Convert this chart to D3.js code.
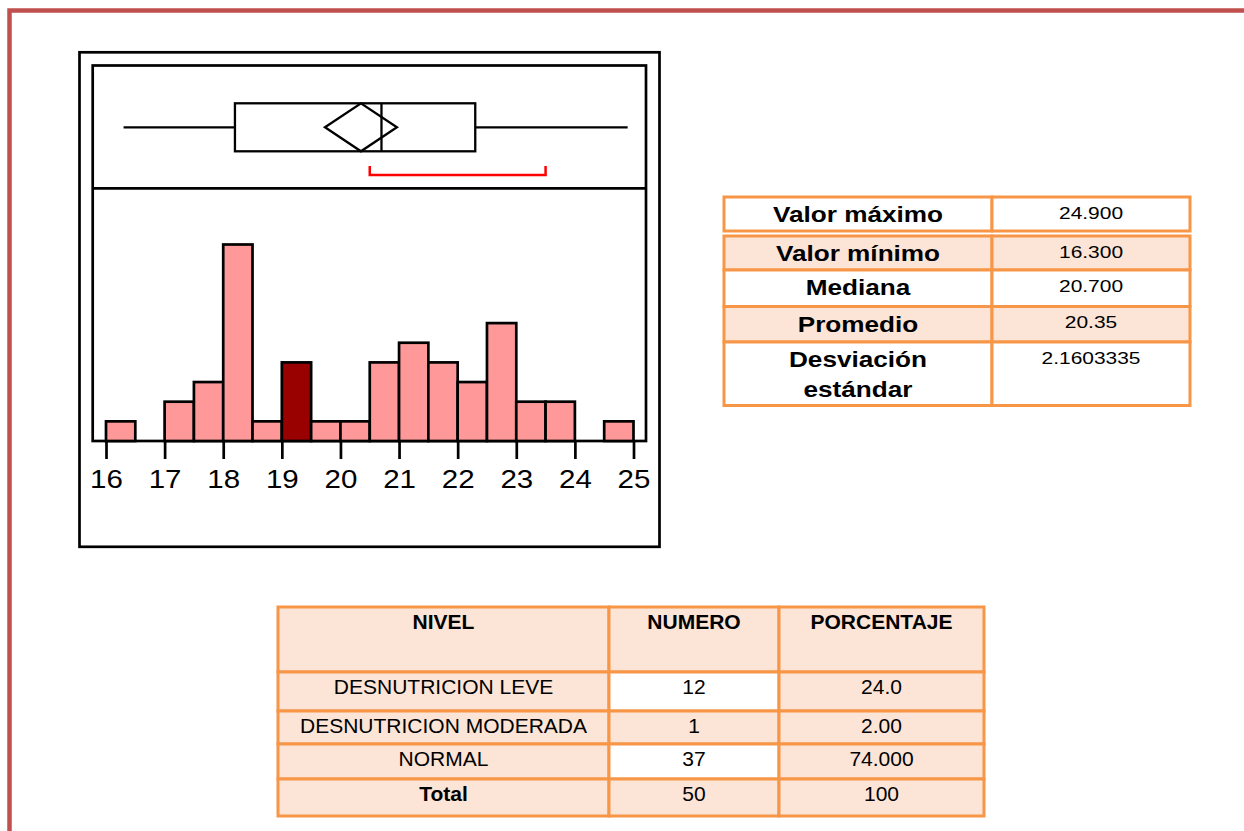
<!DOCTYPE html>
<html>
<head>
<meta charset="utf-8">
<script src="https://cdn.jsdelivr.net/npm/d3@7"></script>
<style>
  body { margin: 0; background: #fff; }
  svg { display: block; font-family: "Liberation Sans", Arial, sans-serif; }
</style>
</head>
<body>
<svg id="chart" width="1244" height="831"></svg>
<script>
// histogram bins (0.5 wide) and counts
var binStarts = [16, 16.5, 17, 17.5, 18, 18.5, 19, 19.5, 20, 20.5, 21, 21.5, 22, 22.5, 23, 23.5, 24, 24.5];
var binCounts = [1, 0, 2, 3, 10, 1, 4, 1, 1, 4, 5, 4, 3, 6, 2, 2, 0, 1];
var highlightBin = 19;

// outlier box plot summary
var boxMin = 16.3, boxQ1 = 18.2, boxMedian = 20.7, boxQ3 = 22.3, boxMax = 24.9;
var meanValue = 20.35, meanLow = 19.736, meanHigh = 20.964;
var shortestHalf = [20.5, 23.5];

var xTicks = [16, 17, 18, 19, 20, 21, 22, 23, 24, 25];

// summary table
var statLabels = [["Valor máximo"], ["Valor mínimo"], ["Mediana"], ["Promedio"], ["Desviación", "estándar"]];
var statValues = ["24.900", "16.300", "20.700", "20.35", "2.1603335"];

// frequency table
var tableHeader = ["NIVEL", "NUMERO", "PORCENTAJE"];
var nivelLabels = ["DESNUTRICION LEVE", "DESNUTRICION MODERADA", "NORMAL", "Total"];
var numeros = ["12", "1", "37", "50"];
var porcentajes = ["24.0", "2.00", "74.000", "100"];

var svg = d3.select("#chart");
var orange = "#f79646", peach = "#fce4d6";

// page border
svg.append("path")
  .attr("d", "M9.5,831V10.5H1244")
  .attr("fill", "none")
  .attr("stroke", "#c0504d")
  .attr("stroke-width", 4.5);

// ---- distribution chart ----
var x = d3.scaleLinear().domain([16, 25]).range([106, 633.5]);
var y = d3.scaleLinear().domain([0, 10]).range([441, 244.5]);
var boxY = d3.scaleLinear().domain([0, 1]).range([103.3, 151.3]);

svg.append("rect")
  .attr("x", 79.5).attr("y", 52.3).attr("width", 580).attr("height", 494.5)
  .attr("fill", "none").attr("stroke", "#000").attr("stroke-width", 2.7);

svg.append("rect")
  .attr("x", 92.7).attr("y", 65.5).attr("width", 553.3).attr("height", 375.5)
  .attr("fill", "none").attr("stroke", "#000").attr("stroke-width", 2.7);

svg.append("line")
  .attr("x1", 92.7).attr("x2", 646).attr("y1", 188.3).attr("y2", 188.3)
  .attr("stroke", "#000").attr("stroke-width", 2.7);

var box = svg.append("g").attr("fill", "none").attr("stroke", "#000").attr("stroke-width", 2.3);
var midY = boxY(0.5);

box.append("line").attr("x1", x(boxMin)).attr("x2", x(boxQ1)).attr("y1", midY).attr("y2", midY);
box.append("line").attr("x1", x(boxQ3)).attr("x2", x(boxMax)).attr("y1", midY).attr("y2", midY);
box.append("rect")
  .attr("x", x(boxQ1)).attr("y", boxY(0))
  .attr("width", x(boxQ3) - x(boxQ1)).attr("height", boxY(1) - boxY(0));
box.append("line").attr("x1", x(boxMedian)).attr("x2", x(boxMedian)).attr("y1", boxY(0)).attr("y2", boxY(1));
box.append("path")
  .attr("d", "M" + x(meanLow) + "," + midY +
             "L" + x(meanValue) + "," + boxY(0) +
             "L" + x(meanHigh) + "," + midY +
             "L" + x(meanValue) + "," + boxY(1) + "Z");

svg.append("path")
  .attr("d", "M" + x(shortestHalf[0]) + ",166V175H" + x(shortestHalf[1]) + "V166")
  .attr("fill", "none").attr("stroke", "#ff0000").attr("stroke-width", 2.5);

var bins = binStarts.map(function(s, i) { return {start: s, count: binCounts[i]}; })
  .filter(function(d) { return d.count > 0; });

svg.selectAll(".bar")
    .data(bins)
  .enter().append("rect")
    .attr("class", "bar")
    .attr("x", function(d) { return x(d.start); })
    .attr("y", function(d) { return y(d.count); })
    .attr("width", function(d) { return x(d.start + 0.5) - x(d.start); })
    .attr("height", function(d) { return y(0) - y(d.count); })
    .attr("fill", function(d) { return d.start === highlightBin ? "#990000" : "#ff9999"; })
    .attr("stroke", "#000")
    .attr("stroke-width", 2.7);

var axis = svg.append("g")
  .attr("transform", "translate(0," + y(0) + ")")
  .call(d3.axisBottom(x).tickValues(xTicks).tickSize(18).tickPadding(11));
axis.select(".domain").remove();
axis.selectAll(".tick line").attr("stroke", "#000").attr("stroke-width", 2.7);
axis.selectAll(".tick text")
  .attr("fill", "#000")
  .attr("font-family", "'Liberation Sans', Arial, sans-serif")
  .attr("font-size", 25)
  .attr("transform", "scale(1.18,1)");

// ---- summary table ----
var statTops = [197, 236, 270, 306.5, 342];
var statBottoms = [231, 270, 306.5, 342, 405.5];
var statCols = [724, 992, 1190];

var stats = svg.selectAll(".stat")
    .data(statLabels)
  .enter().append("g")
    .attr("class", "stat");

[0, 1].forEach(function(c) {
  stats.append("rect")
    .attr("x", statCols[c])
    .attr("y", function(d, i) { return statTops[i]; })
    .attr("width", statCols[c + 1] - statCols[c])
    .attr("height", function(d, i) { return statBottoms[i] - statTops[i]; })
    .attr("fill", function(d, i) { return i % 2 ? peach : "#fff"; })
    .attr("stroke", orange)
    .attr("stroke-width", 3);
});

stats.each(function(lines, i) {
  var g = d3.select(this);
  lines.forEach(function(t, k) {
    g.append("text")
      .attr("transform", "translate(" + (statCols[0] + statCols[1]) / 2 + "," + (statTops[i] + 25 + k * 30) + ") scale(1.2,1)")
      .attr("text-anchor", "middle")
      .attr("font-weight", "bold")
      .attr("font-size", 21.8)
      .text(t);
  });
  g.append("text")
    .attr("transform", "translate(" + (statCols[1] + statCols[2]) / 2 + "," + (statTops[i] + 21.5) + ") scale(1.27,1)")
    .attr("text-anchor", "middle")
    .attr("font-size", 16.5)
    .text(statValues[i]);
});

// ---- frequency table ----
var tCols = [278, 609, 779, 984];
var tRows = [607, 672, 711, 744, 779, 816];

var rows = [tableHeader].concat(nivelLabels.map(function(n, i) {
  return [n, numeros[i], porcentajes[i]];
}));

rows.forEach(function(cells, r) {
  cells.forEach(function(t, c) {
    var white = c === 1 && (r === 1 || r === 3);
    svg.append("rect")
      .attr("x", tCols[c]).attr("y", tRows[r])
      .attr("width", tCols[c + 1] - tCols[c]).attr("height", tRows[r + 1] - tRows[r])
      .attr("fill", white ? "#fff" : peach)
      .attr("stroke", orange)
      .attr("stroke-width", 3);
    svg.append("text")
      .attr("x", (tCols[c] + tCols[c + 1]) / 2)
      .attr("y", tRows[r] + 21.5)
      .attr("text-anchor", "middle")
      .attr("font-size", 21)
      .attr("font-weight", r === 0 || (r === 4 && c === 0) ? "bold" : "normal")
      .text(t);
  });
});
</script>
</body>
</html>
